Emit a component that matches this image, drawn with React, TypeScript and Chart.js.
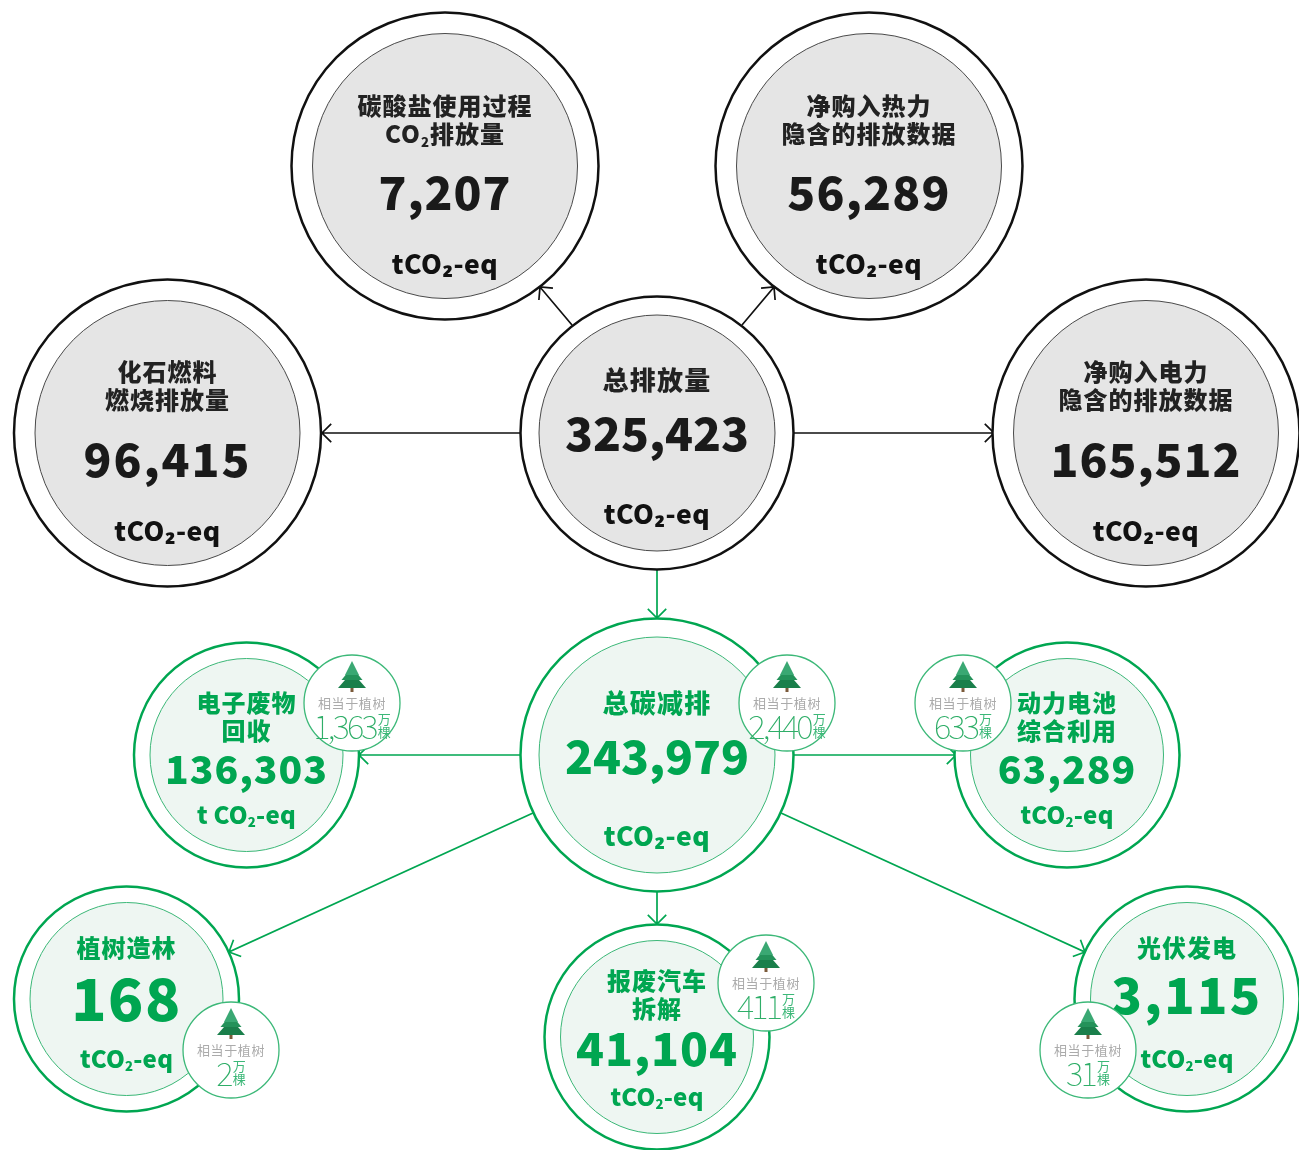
import React, { useEffect, useRef } from "react";
import { Chart, registerables } from "chart.js";

Chart.register(...registerables);

// ---------- values ----------
const emissionTotal = "325,423";
const emissionNames = [["化石燃料", "燃烧排放量"], ["碳酸盐使用过程", "CO|2|排放量"], ["净购入热力", "隐含的排放数据"], ["净购入电力", "隐含的排放数据"]];
const emissionValues = ["96,415", "7,207", "56,289", "165,512"];
const reductionTotal = "243,979";
const reductionNames = [["电子废物", "回收"], ["动力电池", "综合利用"], ["植树造林"], ["报废汽车", "拆解"], ["光伏发电"]];
const reductionValues = ["136,303", "63,289", "168", "41,104", "3,115"];
const reductionUnits = ["t CO|2|-eq", "tCO|2|-eq", "tCO|2|-eq", "tCO|2|-eq", "tCO|2|-eq"];
const treeCounts = ["2,440", "1,363", "633", "2", "411", "31"];
const treeLabel = "相当于植树";
const treeUnit = ["万", "棵"];

// ---------- layout ----------
const W = 1299;
const H = 1150;
const BLACK = "#111111";
const GREEN = "#00a651";
const GREEN_THIN = "#3cb878";
const CJK = '"Noto Sans CJK SC"';

type Node = { x: number; y: number; R: number; r: number; green: boolean; title: string[]; titleY: number[]; titleSize: number; titleGap: number; value: string; valueY: number; valueSize: number; valueGap: number; unit: string; unitY: number; unitSize: number; unitGap: number };

const bigGrey = (x: number, y: number, i: number, dy: number, gap: number): Node => ({
  x, y, R: 153.5, r: 132.5, green: false, title: emissionNames[i], titleY: [y + dy, y + dy + 28], titleSize: 24, titleGap: 1, value: emissionValues[i], valueY: y + 27, valueSize: 46, valueGap: gap, unit: "tCO₂-eq", unitY: y + 97.5, unitSize: 26.5, unitGap: 0.5,
});
const smallGreen = (x: number, y: number, i: number, titleY: number[], valueY: number, size: number, gap: number, unitY: number): Node => ({
  x, y, R: 112.5, r: 96.5, green: true, title: reductionNames[i], titleY, titleSize: 24, titleGap: 1, value: reductionValues[i], valueY, valueSize: size, valueGap: gap, unit: reductionUnits[i], unitY, unitSize: 24, unitGap: 0.2,
});

const nodes: Node[] = [
  { x: 657, y: 433, R: 136.5, r: 118, green: false, title: ["总排放量"], titleY: [380], titleSize: 26, titleGap: 1.3, value: emissionTotal, valueY: 434, valueSize: 46, valueGap: 0, unit: "tCO₂-eq", unitY: 513.5, unitSize: 26.5, unitGap: 0.5 },
  bigGrey(167.5, 433, 0, -61, 2),
  bigGrey(445, 166, 1, -60, 1),
  bigGrey(869, 166, 2, -60, 1.2),
  bigGrey(1146, 433, 3, -61, 1),
  { x: 657, y: 755, R: 136.5, r: 118, green: true, title: ["总碳减排"], titleY: [703], titleSize: 26, titleGap: 1.3, value: reductionTotal, valueY: 757, valueSize: 46, valueGap: 0, unit: "tCO₂-eq", unitY: 835.5, unitSize: 26.5, unitGap: 0.5 },
  smallGreen(246.5, 755, 0, [703, 731], 769, 39, 1, 814.5),
  smallGreen(1067, 755, 1, [703, 731], 769, 39, 1, 814.5),
  smallGreen(126.5, 999, 2, [948], 999, 58, 1.5, 1058.5),
  smallGreen(657, 1037, 3, [981, 1009], 1049, 46, 1, 1096.5),
  smallGreen(1187, 999, 4, [948], 995, 50, 2.3, 1058.5),
];

const badges = [
  { x: 787, y: 703 },
  { x: 352, y: 703 },
  { x: 963, y: 703 },
  { x: 231, y: 1050 },
  { x: 766, y: 983 },
  { x: 1088, y: 1050 },
];

const arrows = [
  { from: [520, 433], to: [322, 433], green: false },
  { from: [794, 433], to: [994, 433], green: false },
  { from: [572, 325], to: [540, 287], green: false },
  { from: [742, 325], to: [774, 287], green: false },
  { from: [657, 570], to: [657, 618], green: true },
  { from: [520, 755], to: [359, 755], green: true },
  { from: [794, 755], to: [956, 755], green: true },
  { from: [533, 813], to: [229, 952], green: true },
  { from: [781, 813], to: [1085, 952], green: true },
  { from: [657, 892], to: [657, 924], green: true },
];

function arrowPoints(a: { from: number[]; to: number[] }) {
  const t = Math.atan2(a.to[1] - a.from[1], a.to[0] - a.from[0]);
  const L = 13;
  const h = (s: number) => ({ x: a.to[0] - L * Math.cos(t + s * Math.PI / 4), y: a.to[1] - L * Math.sin(t + s * Math.PI / 4) });
  const tip = { x: a.to[0], y: a.to[1] };
  return [{ x: a.from[0], y: a.from[1] }, tip, h(1), tip, h(-1)];
}

function drawSegments(ctx: CanvasRenderingContext2D, text: string, cx: number, y: number, size: number, color: string, spacing: number) {
  const parts = text.split("|");
  const font = (s: number) => `900 ${s}px ${CJK}, "Noto Sans", sans-serif`;
  const subSize = size * 0.55;
  ctx.textAlign = "left";
  ctx.textBaseline = "middle";
  ctx.fillStyle = color;
  (ctx as any).letterSpacing = `${spacing}px`;
  let total = 0;
  parts.forEach((p, i) => {
    ctx.font = font(i === 1 ? subSize : size);
    total += ctx.measureText(p).width;
  });
  let x = cx - total / 2;
  parts.forEach((p, i) => {
    ctx.font = font(i === 1 ? subSize : size);
    ctx.fillText(p, x, i === 1 ? y + size * 0.33 : y);
    x += ctx.measureText(p).width;
  });
  (ctx as any).letterSpacing = "0px";
}

function drawTree(ctx: CanvasRenderingContext2D, x: number, y: number) {
  ctx.fillStyle = "#7b5a3a";
  ctx.fillRect(x - 1.5, y + 12, 3, 5);
  const tiers: [number, number, number, string][] = [
    [-3, 13, 14, "#1a7f4b"],
    [-8, 5, 10.5, "#24925a"],
    [-14, 0, 7, "#3aa873"],
  ];
  tiers.forEach(([top, bottom, half, c]) => {
    ctx.fillStyle = c;
    ctx.beginPath();
    ctx.moveTo(x, y + top);
    ctx.lineTo(x + half, y + bottom);
    ctx.lineTo(x - half, y + bottom);
    ctx.closePath();
    ctx.fill();
  });
}

const labelsPlugin = {
  id: "infographicLabels",
  afterDatasetDraw(chart: any, args: any) {
    if (chart.data.datasets[args.index].label !== "inner") return;
    const ctx: CanvasRenderingContext2D = chart.ctx;
    const sx = chart.scales.x;
    const sy = chart.scales.y;
    ctx.save();
    nodes.forEach((n) => {
      const color = n.green ? GREEN : BLACK;
      const cx = sx.getPixelForValue(n.x);
      n.title.forEach((t, i) => {
        drawSegments(ctx, t, cx, sy.getPixelForValue(n.titleY[i]), n.titleSize, n.green ? GREEN : "#222222", n.titleGap);
      });
      drawSegments(ctx, n.value, cx, sy.getPixelForValue(n.valueY), n.valueSize, n.green ? GREEN : "#1a1a1a", n.valueGap);
      drawSegments(ctx, n.unit, cx, sy.getPixelForValue(n.unitY), n.unitSize, color, n.unitGap);
    });
    ctx.restore();
  },
  afterDatasetsDraw(chart: any) {
    const ctx: CanvasRenderingContext2D = chart.ctx;
    const sx = chart.scales.x;
    const sy = chart.scales.y;
    ctx.save();
    badges.forEach((b, i) => {
      const x = sx.getPixelForValue(b.x);
      const y = sy.getPixelForValue(b.y);
      drawTree(ctx, x, y - 28);
      ctx.textBaseline = "middle";
      ctx.textAlign = "center";
      ctx.fillStyle = "#ababab";
      ctx.font = `400 13px ${CJK}`;
      (ctx as any).letterSpacing = "0.6px";
      ctx.fillText(treeLabel, x, y);
      ctx.textAlign = "left";
      ctx.font = `100 33px ${CJK}`;
      (ctx as any).letterSpacing = "-2.8px";
      const w = ctx.measureText(treeCounts[i]).width;
      const gap = 2;
      const start = x - (w + gap + 13) / 2;
      ctx.fillStyle = "#2fae68";
      ctx.fillText(treeCounts[i], start, y + 23);
      (ctx as any).letterSpacing = "0px";
      ctx.font = `400 13px ${CJK}`;
      ctx.fillStyle = "#3cb878";
      ctx.fillText(treeUnit[0], start + w + gap, y + 16);
      ctx.fillText(treeUnit[1], start + w + gap, y + 29);
    });
    ctx.restore();
  },
};

export default function App() {
  const ref = useRef<HTMLCanvasElement | null>(null);
  useEffect(() => {
    document.body.style.margin = "0";
    const chart = new Chart(ref.current!, {
      type: "bubble",
      plugins: [labelsPlugin],
      data: {
        datasets: [
          {
            label: "badges",
            data: badges.map((b) => ({ x: b.x, y: b.y, r: 48 })),
            backgroundColor: "#ffffff",
            borderColor: GREEN_THIN,
            borderWidth: 1.3,
            clip: false,
            order: 1,
          },
          {
            label: "inner",
            data: nodes.map((n) => ({ x: n.x, y: n.y, r: n.r })),
            backgroundColor: nodes.map((n) => (n.green ? "#eef6f2" : "#e5e5e5")),
            borderColor: nodes.map((n) => (n.green ? GREEN_THIN : "#4a4a4a")),
            borderWidth: 1,
            clip: false,
            order: 2,
          },
          {
            label: "outer",
            data: nodes.map((n) => ({ x: n.x, y: n.y, r: n.R })),
            backgroundColor: "#ffffff",
            borderColor: nodes.map((n) => (n.green ? GREEN : BLACK)),
            borderWidth: 2.5,
            clip: false,
            order: 3,
          },
          ...arrows.map((a, i) => ({
            type: "scatter" as const,
            label: `arrow${i}`,
            data: arrowPoints(a),
            showLine: true,
            pointRadius: 0,
            borderColor: a.green ? GREEN : BLACK,
            borderWidth: 1.7,
            tension: 0,
            clip: false,
            order: 4,
          })),
        ] as any,
      },
      options: {
        responsive: false,
        animation: false,
        layout: { padding: 0, autoPadding: false },
        plugins: { legend: { display: false }, tooltip: { enabled: false } },
        elements: { point: { hoverRadius: 0 } },
        events: [],
        scales: {
          x: { type: "linear", min: 0, max: W, display: false },
          y: { type: "linear", min: 0, max: H, reverse: true, display: false },
        },
      },
    });
    return () => chart.destroy();
  }, []);
  return <canvas ref={ref} width={W} height={H} style={{ display: "block", width: W, height: H }} />;
}
